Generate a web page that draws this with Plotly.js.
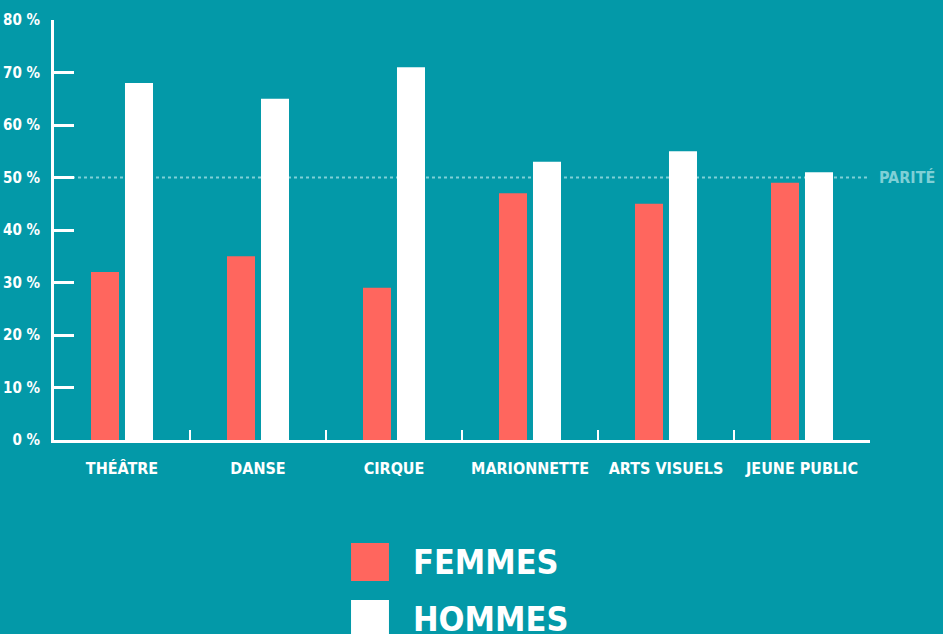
<!DOCTYPE html>
<html><head><meta charset="utf-8">
<script src="https://cdn.plot.ly/plotly-3.0.1.min.js"></script>
<style>html,body{margin:0;padding:0;background:#0399a8;}#chart{width:943px;height:634px;}</style>
</head><body><div id="chart"></div>
<script>
const categories = ["THÉÂTRE", "DANSE", "CIRQUE", "MARIONNETTE", "ARTS VISUELS", "JEUNE PUBLIC"];
const femmes = [32, 35, 29, 47, 45, 49];
const hommes = [68, 65, 71, 53, 55, 51];
const seriesNames = ["FEMMES", "HOMMES"];
const yTicks = [0, 10, 20, 30, 40, 50, 60, 70, 80];
const parite = 50;
const pariteLabel = "PARITÉ";

const BG = "#0399a8", RED = "#ff665e", WHITE = "#ffffff", DOT = "#7fd0d6";
const FONT = "'DejaVu Sans Condensed', 'Liberation Sans Narrow', sans-serif";

const traces = [
  {type: "bar", name: seriesNames[0], x: categories, y: femmes, marker: {color: RED}, hoverinfo: "none"},
  {type: "bar", name: seriesNames[1], x: categories, y: hommes, marker: {color: WHITE}, hoverinfo: "none"}
];

const legendColors = [RED, WHITE];
const shapes = [
  {type: "line", xref: "paper", x0: 0, x1: 1, yref: "y", y0: parite, y1: parite,
   line: {color: DOT, width: 2, dash: "dot"}, layer: "below"}
];
const annotations = [
  {xref: "paper", x: 1.008, xanchor: "left", yref: "y", y: parite, yanchor: "middle",
   text: "<b>" + pariteLabel + "</b>", showarrow: false, font: {family: FONT, size: 16, color: DOT}}
];
seriesNames.forEach((n, i) => {
  const yTop = -0.245 - i * 0.136;
  shapes.push({type: "rect", xref: "paper", yref: "paper", x0: 0.364, x1: 0.4105,
    y0: yTop - 0.0905, y1: yTop, fillcolor: legendColors[i], line: {width: 0}});
  annotations.push({xref: "paper", yref: "paper", x: 0.437, xanchor: "left",
    y: yTop - 0.045, yanchor: "middle", text: "<b>" + n + "</b>", showarrow: false,
    font: {family: FONT, size: 34, color: WHITE}});
});

const layout = {
  width: 943, height: 634,
  paper_bgcolor: BG, plot_bgcolor: BG,
  margin: {l: 54, r: 73, t: 20, b: 194},
  showlegend: false,
  barmode: "group", bargap: 0.5, bargroupgap: 0.176,
  font: {family: FONT, color: WHITE},
  xaxis: {
    type: "category", tickson: "boundaries", ticks: "inside", ticklen: 10, tickwidth: 2,
    tickcolor: WHITE, showline: true, linecolor: WHITE, linewidth: 3, showgrid: false,
    zeroline: false, tickfont: {family: FONT, size: 16, color: WHITE}, ticklabelstandoff: 12,
    tickprefix: "<b>", ticksuffix: "</b>", fixedrange: true
  },
  yaxis: {
    range: [0, 80], tickvals: yTicks, ticktext: yTicks.map(v => "<b>" + v + " %</b>"),
    ticks: "inside", ticklen: 20, tickwidth: 3, tickcolor: WHITE,
    showline: true, linecolor: WHITE, linewidth: 3, showgrid: false, zeroline: false,
    tickfont: {family: FONT, size: 15, color: WHITE}, ticklabelstandoff: 8, fixedrange: true
  },
  shapes: shapes, annotations: annotations
};
Plotly.newPlot("chart", traces, layout, {displayModeBar: false, staticPlot: true});
</script></body></html>
